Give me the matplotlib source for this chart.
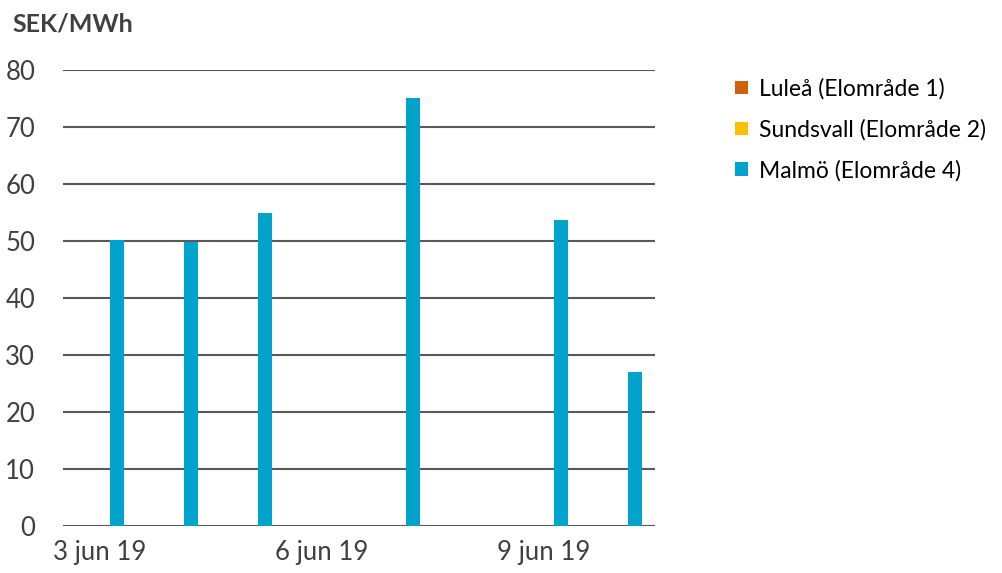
import matplotlib
import matplotlib.pyplot as plt
import numpy as np

matplotlib.use("Agg")
plt.rcParams["font.family"] = ["Lato", "DejaVu Sans"]

# dagar 3 jun - 10 jun 2019
days = ["3 jun 19", "4 jun 19", "5 jun 19", "6 jun 19",
        "7 jun 19", "8 jun 19", "9 jun 19", "10 jun 19"]
lulea = [np.nan] * 8
sundsvall = [np.nan] * 8
malmo = [50.2, 49.9, 54.9, np.nan, 75.1, np.nan, 53.6, 27.0]

series = [
    ("Luleå (Elområde 1)", lulea, "#D2610F"),
    ("Sundsvall (Elområde 2)", sundsvall, "#FFC000"),
    ("Malmö (Elområde 4)", malmo, "#00A3CB"),
]

text_col = "#404040"
grid_col = "#595959"

fig = plt.figure(figsize=(10.02, 5.73), dpi=100)
ax = fig.add_axes([63 / 1002, 1 - 526 / 573, (655 - 63) / 1002, (526 - 70) / 573])

x = np.arange(len(days))
w = 0.2
offsets = [-0.23, 0.0, 0.23]
handles = []
for (name, vals, col), off in zip(series, offsets):
    b = ax.bar(x + off, vals, width=w, color=col, label=name, zorder=3)
    handles.append(b)

ax.set_xlim(-0.5, len(days) - 0.5)
ax.set_ylim(0, 80)
ax.set_yticks(range(0, 81, 10))
ax.yaxis.grid(True, color=grid_col, linewidth=1.5, zorder=0)
ax.set_axisbelow(True)
for s in ax.spines.values():
    s.set_visible(False)

ax.set_xticks(x[::3])
ax.set_xticklabels(days[::3])
ax.tick_params(axis="both", length=0, labelsize=18.5, colors=text_col)
ax.tick_params(axis="y", pad=20)
ax.tick_params(axis="x", pad=10)

fig.text(12 / 1002, 1 - 24 / 573, "SEK/MWh", fontsize=18, fontweight="bold",
         color=text_col, va="center", ha="left")

fig.legend(handles=handles, loc="upper left", bbox_to_anchor=(735 / 1002, 1 - 78 / 573),
           frameon=False, fontsize=16.5, labelcolor="#000000", handlelength=0.55,
           handleheight=0.55, handletextpad=0.5, labelspacing=0.85, borderpad=0,
           borderaxespad=0)

fig.savefig("out.png", dpi=100)
